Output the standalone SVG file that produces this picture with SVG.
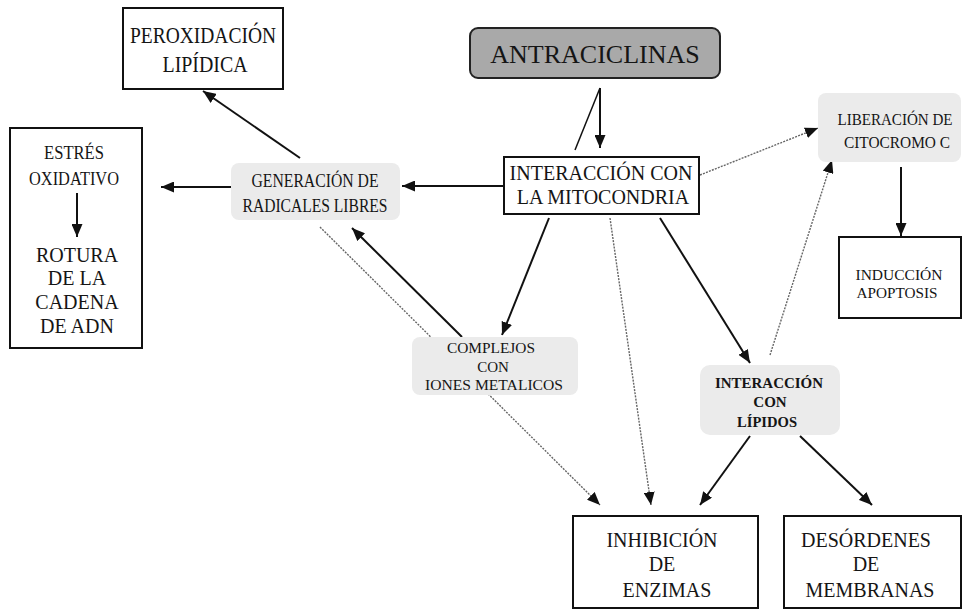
<svg xmlns="http://www.w3.org/2000/svg" width="963" height="610" viewBox="0 0 963 610">
<defs>
<marker id="ah" markerUnits="userSpaceOnUse" viewBox="0 0 13 11" refX="13" refY="5.5" markerWidth="13" markerHeight="11" orient="auto">
<path d="M0,0 L13,5.5 L0,11 z" fill="#111"/>
</marker>
<style>
text{font-family:"Liberation Serif","Times New Roman",serif;fill:#151515;text-anchor:middle}
.box{fill:#fff;stroke:#111;stroke-width:2}
.soft{fill:#ebebeb;stroke:none}
.main{fill:#a9a9a9;stroke:#222;stroke-width:2}
.sol{stroke:#111;stroke-width:2;fill:none}
.dot{stroke:#666;stroke-width:1.4;stroke-dasharray:2 1.2;fill:none}
</style>
</defs>
<rect width="963" height="610" fill="#fff"/>
<g id="connectors">
<path class="sol" d="M600,88 L600,148" marker-end="url(#ah)"/>
<path class="sol" style="stroke-width:1.5" d="M600,88 L575,150"/>
<path class="sol" d="M503,186 L402,186" marker-end="url(#ah)"/>
<path class="sol" d="M231,187 L161,187" marker-end="url(#ah)"/>
<path class="sol" d="M300,158 L203,91" marker-end="url(#ah)"/>
<path class="sol" d="M549,218 L502,335" marker-end="url(#ah)"/>
<path class="sol" d="M462,337 L352,228" marker-end="url(#ah)"/>
<path class="dot" d="M320,227 L600,505" marker-end="url(#ah)"/>
<path class="dot" d="M610,218 L651,505" marker-end="url(#ah)"/>
<path class="sol" d="M660,218 L750,363" marker-end="url(#ah)"/>
<path class="dot" d="M700,175 L818,128" marker-end="url(#ah)"/>
<path class="dot" d="M770,355 L832,160" marker-end="url(#ah)"/>
<path class="sol" d="M901,167 L901,236" marker-end="url(#ah)"/>
<path class="sol" d="M750,436 L700,505" marker-end="url(#ah)"/>
<path class="sol" d="M800,436 L872,505" marker-end="url(#ah)"/>
</g>
<g id="peroxidacion">
<rect class="box" x="123" y="8" width="160" height="81"/>
<text x="203" y="43" font-size="24" textLength="146" lengthAdjust="spacingAndGlyphs">PEROXIDACIÓN</text>
<text x="205" y="72" font-size="24" textLength="85" lengthAdjust="spacingAndGlyphs">LIPÍDICA</text>
</g>
<g id="estres">
<rect class="box" x="10" y="128" width="132" height="220"/>
<text x="74" y="159" font-size="19" textLength="60" lengthAdjust="spacingAndGlyphs">ESTRÉS</text>
<text x="74" y="185" font-size="19" textLength="90" lengthAdjust="spacingAndGlyphs">OXIDATIVO</text>
<path class="sol" d="M77,193 L77,237" marker-end="url(#ah)"/>
<text x="77" y="262" font-size="20">ROTURA</text>
<text x="77" y="285" font-size="20">DE LA</text>
<text x="77" y="309" font-size="20">CADENA</text>
<text x="77" y="333" font-size="20">DE ADN</text>
</g>
<g id="generacion">
<rect class="soft" x="231" y="163" width="169" height="57" rx="8"/>
<text x="315" y="187" font-size="19" textLength="127" lengthAdjust="spacingAndGlyphs">GENERACIÓN DE</text>
<text x="315" y="212" font-size="19" textLength="145" lengthAdjust="spacingAndGlyphs">RADICALES LIBRES</text>
</g>
<g id="antraciclinas">
<rect class="main" x="470" y="28" width="250" height="50" rx="8"/>
<text x="595" y="63" font-size="26">ANTRACICLINAS</text>
</g>
<g id="mitocondria">
<rect class="box" x="504" y="157" width="195" height="57"/>
<text x="601" y="180" font-size="20">INTERACCIÓN CON</text>
<text x="603" y="204" font-size="20">LA MITOCONDRIA</text>
</g>
<g id="citocromo">
<rect class="soft" x="818" y="93" width="143" height="69" rx="8"/>
<text x="895" y="125" font-size="16" textLength="115" lengthAdjust="spacingAndGlyphs">LIBERACIÓN DE</text>
<text x="897" y="148" font-size="16" textLength="106" lengthAdjust="spacingAndGlyphs">CITOCROMO C</text>
</g>
<g id="apoptosis">
<rect class="box" x="839" y="237" width="122" height="81"/>
<text x="899" y="280" font-size="15" textLength="87" lengthAdjust="spacingAndGlyphs">INDUCCIÓN</text>
<text x="897" y="298" font-size="15" textLength="81" lengthAdjust="spacingAndGlyphs">APOPTOSIS</text>
</g>
<g id="complejos">
<rect class="soft" x="412" y="337" width="166" height="58" rx="8"/>
<text x="491" y="353" font-size="15" textLength="88" lengthAdjust="spacingAndGlyphs">COMPLEJOS</text>
<text x="493" y="372" font-size="15">CON</text>
<text x="494" y="390" font-size="15" textLength="138" lengthAdjust="spacingAndGlyphs">IONES METALICOS</text>
</g>
<g id="lipidos">
<rect class="soft" x="700" y="365" width="140" height="70" rx="10"/>
<text x="769" y="388" font-size="15" font-weight="bold" textLength="108" lengthAdjust="spacingAndGlyphs">INTERACCIÓN</text>
<text x="770" y="407" font-size="15" font-weight="bold">CON</text>
<text x="767" y="427" font-size="15" font-weight="bold" textLength="60" lengthAdjust="spacingAndGlyphs">LÍPIDOS</text>
</g>
<g id="inhibicion">
<rect class="box" x="573" y="516" width="185" height="92"/>
<text x="662" y="547" font-size="20">INHIBICIÓN</text>
<text x="662" y="571" font-size="20">DE</text>
<text x="667" y="597" font-size="20">ENZIMAS</text>
</g>
<g id="desordenes">
<rect class="box" x="784" y="516" width="177" height="92"/>
<text x="866" y="547" font-size="20">DESÓRDENES</text>
<text x="866" y="571" font-size="20">DE</text>
<text x="870" y="597" font-size="20">MEMBRANAS</text>
</g>
</svg>
